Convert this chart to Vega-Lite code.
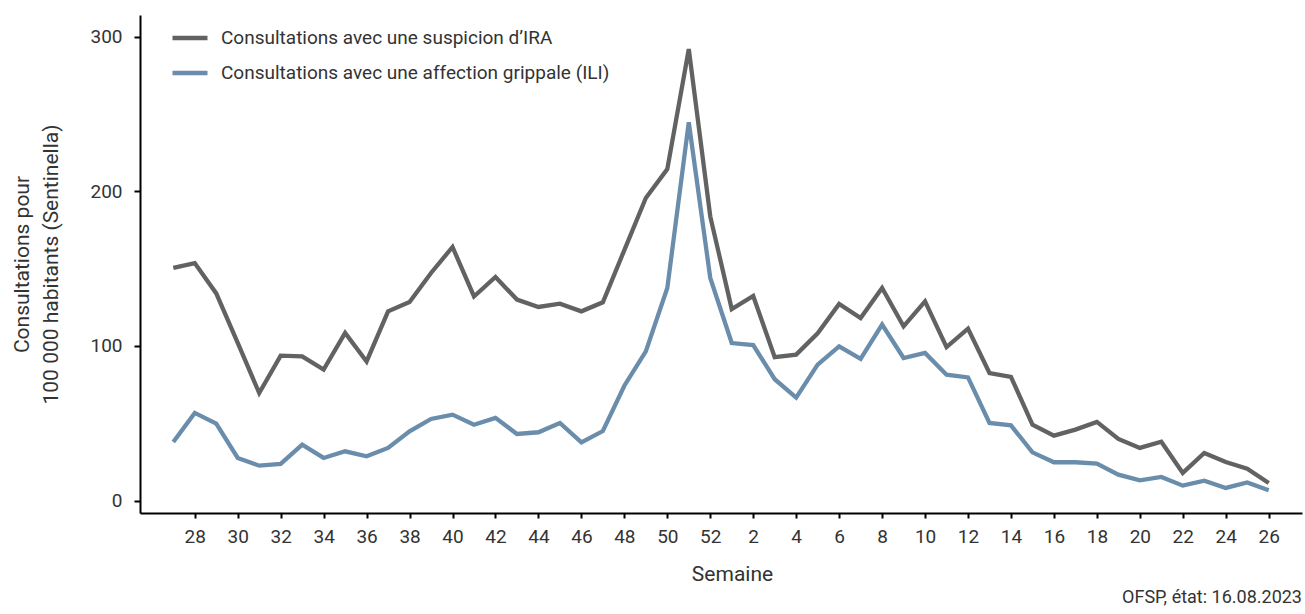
{
  "$schema": "https://vega.github.io/schema/vega-lite/v6.json",
  "width": 1162,
  "height": 498,
  "autosize": {"type": "none"},
  "padding": {"left": 140, "top": 15, "right": 3, "bottom": 101},
  "background": "white",
  "config": {
    "view": {"stroke": null},
    "font": "Roboto",
    "axis": {"grid": false, "domainColor": "black", "domainWidth": 2, "tickColor": "black", "tickWidth": 2, "labelColor": "#333333", "titleColor": "#333333", "labelFont": "Roboto", "titleFont": "Roboto", "titleFontWeight": "normal"}
  },
  "title": {
    "text": "OFSP, état: 16.08.2023",
    "orient": "bottom",
    "anchor": "end",
    "fontSize": 18,
    "fontWeight": "normal",
    "color": "#333333",
    "font": "Roboto",
    "offset": 5
  },
  "data": {
    "values": [
      {"rang": 0, "semaine": 27, "serie": "IRA", "valeur": 150.5},
      {"rang": 1, "semaine": 28, "serie": "IRA", "valeur": 153.6},
      {"rang": 2, "semaine": 29, "serie": "IRA", "valeur": 134},
      {"rang": 3, "semaine": 30, "serie": "IRA", "valeur": 102},
      {"rang": 4, "semaine": 31, "serie": "IRA", "valeur": 69.6},
      {"rang": 5, "semaine": 32, "serie": "IRA", "valeur": 93.7},
      {"rang": 6, "semaine": 33, "serie": "IRA", "valeur": 93.3},
      {"rang": 7, "semaine": 34, "serie": "IRA", "valeur": 84.7},
      {"rang": 8, "semaine": 35, "serie": "IRA", "valeur": 108.4},
      {"rang": 9, "semaine": 36, "serie": "IRA", "valeur": 90},
      {"rang": 10, "semaine": 37, "serie": "IRA", "valeur": 122.4},
      {"rang": 11, "semaine": 38, "serie": "IRA", "valeur": 128.4},
      {"rang": 12, "semaine": 39, "serie": "IRA", "valeur": 147.2},
      {"rang": 13, "semaine": 40, "serie": "IRA", "valeur": 164},
      {"rang": 14, "semaine": 41, "serie": "IRA", "valeur": 132},
      {"rang": 15, "semaine": 42, "serie": "IRA", "valeur": 144.6},
      {"rang": 16, "semaine": 43, "serie": "IRA", "valeur": 130},
      {"rang": 17, "semaine": 44, "serie": "IRA", "valeur": 125.2},
      {"rang": 18, "semaine": 45, "serie": "IRA", "valeur": 127.3},
      {"rang": 19, "semaine": 46, "serie": "IRA", "valeur": 122.4},
      {"rang": 20, "semaine": 47, "serie": "IRA", "valeur": 128.2},
      {"rang": 21, "semaine": 48, "serie": "IRA", "valeur": 162},
      {"rang": 22, "semaine": 49, "serie": "IRA", "valeur": 195.7},
      {"rang": 23, "semaine": 50, "serie": "IRA", "valeur": 214.4},
      {"rang": 24, "semaine": 51, "serie": "IRA", "valeur": 292},
      {"rang": 25, "semaine": 52, "serie": "IRA", "valeur": 183.8},
      {"rang": 26, "semaine": 1, "serie": "IRA", "valeur": 123.9},
      {"rang": 27, "semaine": 2, "serie": "IRA", "valeur": 132.3},
      {"rang": 28, "semaine": 3, "serie": "IRA", "valeur": 92.8},
      {"rang": 29, "semaine": 4, "serie": "IRA", "valeur": 94.4},
      {"rang": 30, "semaine": 5, "serie": "IRA", "valeur": 108.2},
      {"rang": 31, "semaine": 6, "serie": "IRA", "valeur": 127.2},
      {"rang": 32, "semaine": 7, "serie": "IRA", "valeur": 118.1},
      {"rang": 33, "semaine": 8, "serie": "IRA", "valeur": 137.5},
      {"rang": 34, "semaine": 9, "serie": "IRA", "valeur": 112.7},
      {"rang": 35, "semaine": 10, "serie": "IRA", "valeur": 128.8},
      {"rang": 36, "semaine": 11, "serie": "IRA", "valeur": 99.3},
      {"rang": 37, "semaine": 12, "serie": "IRA", "valeur": 111.2},
      {"rang": 38, "semaine": 13, "serie": "IRA", "valeur": 82.5},
      {"rang": 39, "semaine": 14, "serie": "IRA", "valeur": 80},
      {"rang": 40, "semaine": 15, "serie": "IRA", "valeur": 49.1},
      {"rang": 41, "semaine": 16, "serie": "IRA", "valeur": 42},
      {"rang": 42, "semaine": 17, "serie": "IRA", "valeur": 45.9},
      {"rang": 43, "semaine": 18, "serie": "IRA", "valeur": 50.9},
      {"rang": 44, "semaine": 19, "serie": "IRA", "valeur": 39.9},
      {"rang": 45, "semaine": 20, "serie": "IRA", "valeur": 34.1},
      {"rang": 46, "semaine": 21, "serie": "IRA", "valeur": 38.1},
      {"rang": 47, "semaine": 22, "serie": "IRA", "valeur": 17.9},
      {"rang": 48, "semaine": 23, "serie": "IRA", "valeur": 30.8},
      {"rang": 49, "semaine": 24, "serie": "IRA", "valeur": 25},
      {"rang": 50, "semaine": 25, "serie": "IRA", "valeur": 20.7},
      {"rang": 51, "semaine": 26, "serie": "IRA", "valeur": 11.4},
      {"rang": 0, "semaine": 27, "serie": "ILI", "valeur": 37.9},
      {"rang": 1, "semaine": 28, "serie": "ILI", "valeur": 56.7},
      {"rang": 2, "semaine": 29, "serie": "ILI", "valeur": 49.8},
      {"rang": 3, "semaine": 30, "serie": "ILI", "valeur": 27.6},
      {"rang": 4, "semaine": 31, "serie": "ILI", "valeur": 22.6},
      {"rang": 5, "semaine": 32, "serie": "ILI", "valeur": 23.7},
      {"rang": 6, "semaine": 33, "serie": "ILI", "valeur": 36.2},
      {"rang": 7, "semaine": 34, "serie": "ILI", "valeur": 27.6},
      {"rang": 8, "semaine": 35, "serie": "ILI", "valeur": 31.9},
      {"rang": 9, "semaine": 36, "serie": "ILI", "valeur": 28.7},
      {"rang": 10, "semaine": 37, "serie": "ILI", "valeur": 34.1},
      {"rang": 11, "semaine": 38, "serie": "ILI", "valeur": 44.8},
      {"rang": 12, "semaine": 39, "serie": "ILI", "valeur": 52.8},
      {"rang": 13, "semaine": 40, "serie": "ILI", "valeur": 55.6},
      {"rang": 14, "semaine": 41, "serie": "ILI", "valeur": 49.1},
      {"rang": 15, "semaine": 42, "serie": "ILI", "valeur": 53.5},
      {"rang": 16, "semaine": 43, "serie": "ILI", "valeur": 43.1},
      {"rang": 17, "semaine": 44, "serie": "ILI", "valeur": 44.2},
      {"rang": 18, "semaine": 45, "serie": "ILI", "valeur": 50.2},
      {"rang": 19, "semaine": 46, "serie": "ILI", "valeur": 37.7},
      {"rang": 20, "semaine": 47, "serie": "ILI", "valeur": 45},
      {"rang": 21, "semaine": 48, "serie": "ILI", "valeur": 74.3},
      {"rang": 22, "semaine": 49, "serie": "ILI", "valeur": 96.5},
      {"rang": 23, "semaine": 50, "serie": "ILI", "valeur": 137.5},
      {"rang": 24, "semaine": 51, "serie": "ILI", "valeur": 244.6},
      {"rang": 25, "semaine": 52, "serie": "ILI", "valeur": 144},
      {"rang": 26, "semaine": 1, "serie": "ILI", "valeur": 101.9},
      {"rang": 27, "semaine": 2, "serie": "ILI", "valeur": 100.6},
      {"rang": 28, "semaine": 3, "serie": "ILI", "valeur": 78.5},
      {"rang": 29, "semaine": 4, "serie": "ILI", "valeur": 66.6},
      {"rang": 30, "semaine": 5, "serie": "ILI", "valeur": 87.9},
      {"rang": 31, "semaine": 6, "serie": "ILI", "valeur": 99.8},
      {"rang": 32, "semaine": 7, "serie": "ILI", "valeur": 91.7},
      {"rang": 33, "semaine": 8, "serie": "ILI", "valeur": 113.8},
      {"rang": 34, "semaine": 9, "serie": "ILI", "valeur": 92.2},
      {"rang": 35, "semaine": 10, "serie": "ILI", "valeur": 95.5},
      {"rang": 36, "semaine": 11, "serie": "ILI", "valeur": 81.4},
      {"rang": 37, "semaine": 12, "serie": "ILI", "valeur": 79.7},
      {"rang": 38, "semaine": 13, "serie": "ILI", "valeur": 50.2},
      {"rang": 39, "semaine": 14, "serie": "ILI", "valeur": 48.7},
      {"rang": 40, "semaine": 15, "serie": "ILI", "valeur": 31.2},
      {"rang": 41, "semaine": 16, "serie": "ILI", "valeur": 24.8},
      {"rang": 42, "semaine": 17, "serie": "ILI", "valeur": 24.8},
      {"rang": 43, "semaine": 18, "serie": "ILI", "valeur": 23.9},
      {"rang": 44, "semaine": 19, "serie": "ILI", "valeur": 16.8},
      {"rang": 45, "semaine": 20, "serie": "ILI", "valeur": 13.1},
      {"rang": 46, "semaine": 21, "serie": "ILI", "valeur": 15.3},
      {"rang": 47, "semaine": 22, "serie": "ILI", "valeur": 9.7},
      {"rang": 48, "semaine": 23, "serie": "ILI", "valeur": 12.9},
      {"rang": 49, "semaine": 24, "serie": "ILI", "valeur": 8.2},
      {"rang": 50, "semaine": 25, "serie": "ILI", "valeur": 11.8},
      {"rang": 51, "semaine": 26, "serie": "ILI", "valeur": 6.7}
    ]
  },
  "mark": {"type": "line", "strokeWidth": 4.3, "strokeJoin": "miter", "strokeCap": "butt"},
  "encoding": {
    "x": {
      "field": "rang",
      "type": "quantitative",
      "scale": {"domain": [-1.55, 52.55], "nice": false, "zero": false},
      "axis": {
        "title": "Semaine",
        "values": [1,3,5,7,9,11,13,15,17,19,21,23,25,27,29,31,33,35,37,39,41,43,45,47,49,51],
        "labelExpr": "datum.value < 26 ? datum.value + 27 : datum.value - 25",
        "labelFontSize": 19,
        "labelPadding": 9,
        "tickSize": 5,
        "titleFontSize": 21,
        "titlePadding": 17,
        "titleX": 592
      }
    },
    "y": {
      "field": "valeur",
      "type": "quantitative",
      "scale": {"domain": [-8, 314], "nice": false, "zero": false},
      "axis": {
        "title": ["Consultations pour", "100 000 habitants (Sentinella)"],
        "values": [0, 100, 200, 300],
        "labelFontSize": 19,
        "labelPadding": 12,
        "tickSize": 6,
        "titleFontSize": 21,
        "titlePadding": 28,
        "titleLineHeight": 29
      }
    },
    "color": {
      "field": "serie",
      "type": "nominal",
      "scale": {"domain": ["IRA", "ILI"], "range": ["#626262", "#6a8dab"]},
      "legend": {
        "title": null,
        "orient": "none",
        "legendX": 30,
        "legendY": 3,
        "padding": 0,
        "symbolType": "stroke",
        "symbolSize": 1225,
        "symbolStrokeWidth": 4.5,
        "rowPadding": 5,
        "labelOffset": 11,
        "labelFontSize": 19,
        "labelColor": "#333333",
        "labelFont": "Roboto",
        "labelLimit": 600,
        "labelExpr": "datum.label == 'IRA' ? 'Consultations avec une suspicion d’IRA' : 'Consultations avec une affection grippale (ILI)'"
      }
    }
  }
}
